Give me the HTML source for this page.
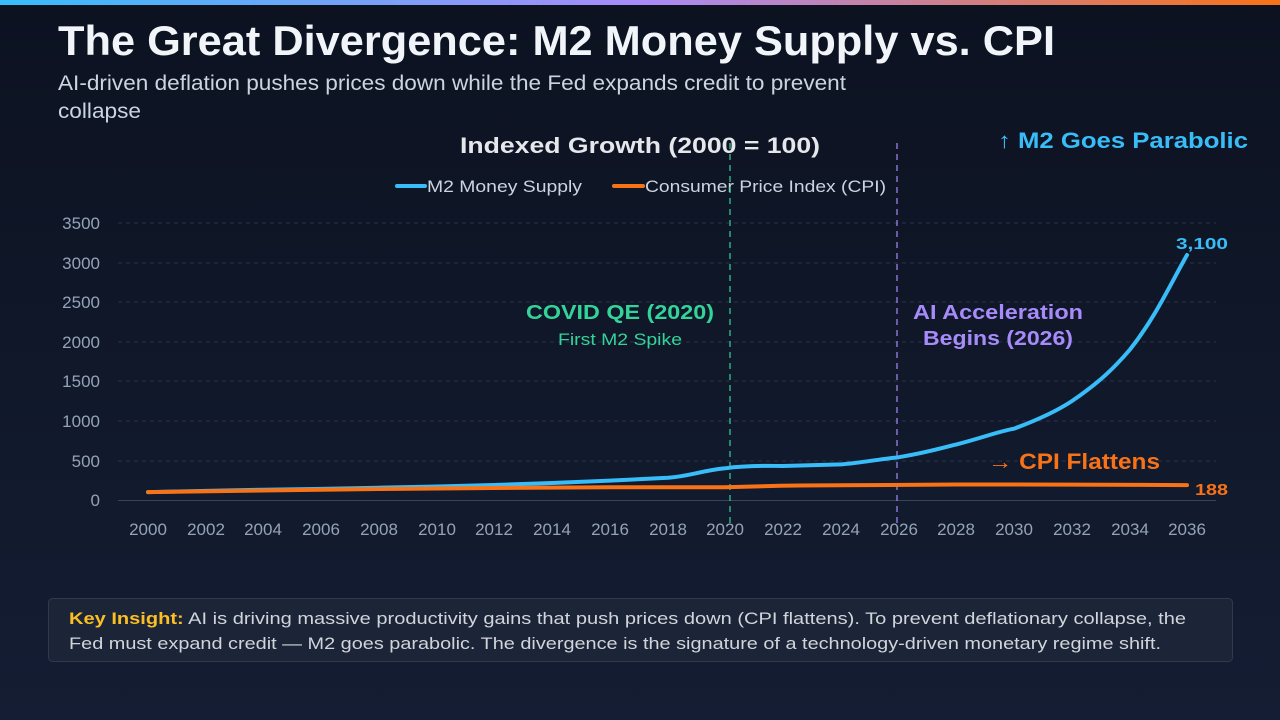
<!DOCTYPE html>
<html><head><meta charset="utf-8"><style>
html,body{margin:0;padding:0;width:1280px;height:720px;overflow:hidden;background:#0f1526}
svg{display:block}
text{font-family:"Liberation Sans",sans-serif}
</style></head><body>
<svg width="1280" height="720" viewBox="0 0 1280 720" xmlns="http://www.w3.org/2000/svg">
<defs>
<linearGradient id="bg" x1="0" y1="0" x2="0" y2="1"><stop offset="0" stop-color="#0c1220"/><stop offset="1" stop-color="#141d33"/></linearGradient>
<linearGradient id="tb" x1="0" y1="0" x2="1" y2="0"><stop offset="0" stop-color="#38bdf8"/><stop offset="0.5" stop-color="#a78bfa"/><stop offset="1" stop-color="#f97316"/></linearGradient>
</defs>
<rect width="1280" height="720" fill="url(#bg)"/>
<rect width="1280" height="5" fill="url(#tb)"/>
<text x="58" y="55" font-size="42" font-weight="bold" fill="#f1f5f9" textLength="997" lengthAdjust="spacingAndGlyphs">The Great Divergence: M2 Money Supply vs. CPI</text>
<text x="58" y="90" font-size="21" fill="#cbd5e1" textLength="788" lengthAdjust="spacingAndGlyphs">AI-driven deflation pushes prices down while the Fed expands credit to prevent</text>
<text x="58" y="118" font-size="21" fill="#cbd5e1" textLength="83" lengthAdjust="spacingAndGlyphs">collapse</text>
<text x="460" y="153" font-size="22" font-weight="bold" fill="#e5e7eb" textLength="360" lengthAdjust="spacingAndGlyphs">Indexed Growth (2000 = 100)</text>
<line x1="397" y1="186" x2="425" y2="186" stroke="#38bdf8" stroke-width="4" stroke-linecap="round"/>
<text x="427" y="192" font-size="17" fill="#cbd5e1" textLength="155" lengthAdjust="spacingAndGlyphs">M2 Money Supply</text>
<line x1="614" y1="186" x2="643" y2="186" stroke="#f97316" stroke-width="4" stroke-linecap="round"/>
<text x="645" y="192" font-size="17" fill="#cbd5e1" textLength="241" lengthAdjust="spacingAndGlyphs">Consumer Price Index (CPI)</text>
<g stroke="#2a3448" stroke-width="1" stroke-dasharray="4,4">
<line x1="118" y1="223" x2="1216" y2="223"/><line x1="118" y1="263" x2="1216" y2="263"/><line x1="118" y1="302" x2="1216" y2="302"/><line x1="118" y1="342" x2="1216" y2="342"/><line x1="118" y1="381" x2="1216" y2="381"/><line x1="118" y1="421" x2="1216" y2="421"/><line x1="118" y1="461" x2="1216" y2="461"/>
</g>
<line x1="118" y1="500.5" x2="1216" y2="500.5" stroke="#3a4458" stroke-width="1"/>
<g font-size="17" fill="#94a3b8" text-anchor="end">
<text x="100" y="229">3500</text><text x="100" y="269">3000</text><text x="100" y="308">2500</text><text x="100" y="348">2000</text><text x="100" y="387">1500</text><text x="100" y="427">1000</text><text x="100" y="467">500</text><text x="100" y="506">0</text>
</g>
<g font-size="17" fill="#94a3b8" text-anchor="middle">
<text x="148" y="535">2000</text><text x="206" y="535">2002</text><text x="263" y="535">2004</text><text x="321" y="535">2006</text><text x="379" y="535">2008</text><text x="437" y="535">2010</text><text x="494" y="535">2012</text><text x="552" y="535">2014</text><text x="610" y="535">2016</text><text x="668" y="535">2018</text><text x="725" y="535">2020</text><text x="783" y="535">2022</text><text x="841" y="535">2024</text><text x="899" y="535">2026</text><text x="956" y="535">2028</text><text x="1014" y="535">2030</text><text x="1072" y="535">2032</text><text x="1130" y="535">2034</text><text x="1187" y="535">2036</text>
</g>
<line x1="730" y1="143" x2="730" y2="528" stroke="#34d399" stroke-width="1.5" stroke-dasharray="6,5" opacity="0.8"/>
<line x1="897" y1="143" x2="897" y2="528" stroke="#a78bfa" stroke-width="1.5" stroke-dasharray="6,5" opacity="0.8"/>
<path d="M148,492.1 L206,490.9 L263,489.7 L321,488.9 L379,487.7 L437,486.5 L494,485 L552,483 L610,480.6 L668,477.8 C690,476 700,471 725,468.3 C750,465 770,466 783,466 L841,464.4 C860,463 880,459 899,457.2 C930,452 945,447 956,444.6 C985,437 1000,431 1014,428.7 C1040,419 1060,409 1072,401 C1100,382 1115,367 1130,349.5 C1155,318 1170,285 1187,255" fill="none" stroke="#38bdf8" stroke-width="4" stroke-linecap="round" stroke-linejoin="round"/>
<path d="M148,492.1 L263,490.5 L379,489 L494,488 L610,487.3 L725,487.3 C760,486 800,485.4 841,485.3 C870,484.8 900,484.6 956,484.5 L1072,484.6 C1120,484.8 1160,484.9 1187,485.1" fill="none" stroke="#f97316" stroke-width="4" stroke-linecap="round"/>
<text x="620" y="319" font-size="20" font-weight="bold" fill="#34d399" text-anchor="middle" textLength="188" lengthAdjust="spacingAndGlyphs">COVID QE (2020)</text>
<text x="620" y="345" font-size="17" fill="#34d399" text-anchor="middle" textLength="124" lengthAdjust="spacingAndGlyphs">First M2 Spike</text>
<text x="998" y="319" font-size="20" font-weight="bold" fill="#a78bfa" text-anchor="middle" textLength="170" lengthAdjust="spacingAndGlyphs">AI Acceleration</text>
<text x="998" y="345" font-size="20" font-weight="bold" fill="#a78bfa" text-anchor="middle" textLength="150" lengthAdjust="spacingAndGlyphs">Begins (2026)</text>
<text x="998" y="148" font-size="22" font-weight="bold" fill="#38bdf8" textLength="250" lengthAdjust="spacingAndGlyphs">↑ M2 Goes Parabolic</text>
<text x="988" y="469" font-size="22" font-weight="bold" fill="#f97316" textLength="172" lengthAdjust="spacingAndGlyphs">→ CPI Flattens</text>
<text x="1176" y="249" font-size="16" font-weight="bold" fill="#38bdf8" textLength="52" lengthAdjust="spacingAndGlyphs">3,100</text>
<text x="1195" y="495" font-size="16" font-weight="bold" fill="#f97316" textLength="33" lengthAdjust="spacingAndGlyphs">188</text>
<rect x="48.5" y="598.5" width="1184" height="63" rx="4" fill="#1c2537" stroke="#2f3a4f"/>
<text x="69" y="624" font-size="17" fill="#d1d5db" textLength="1117" lengthAdjust="spacingAndGlyphs"><tspan font-weight="bold" fill="#fbbf24">Key Insight:</tspan> AI is driving massive productivity gains that push prices down (CPI flattens). To prevent deflationary collapse, the</text>
<text x="69" y="649" font-size="17" fill="#d1d5db" textLength="1092" lengthAdjust="spacingAndGlyphs">Fed must expand credit — M2 goes parabolic. The divergence is the signature of a technology-driven monetary regime shift.</text>
</svg>
</body></html>
